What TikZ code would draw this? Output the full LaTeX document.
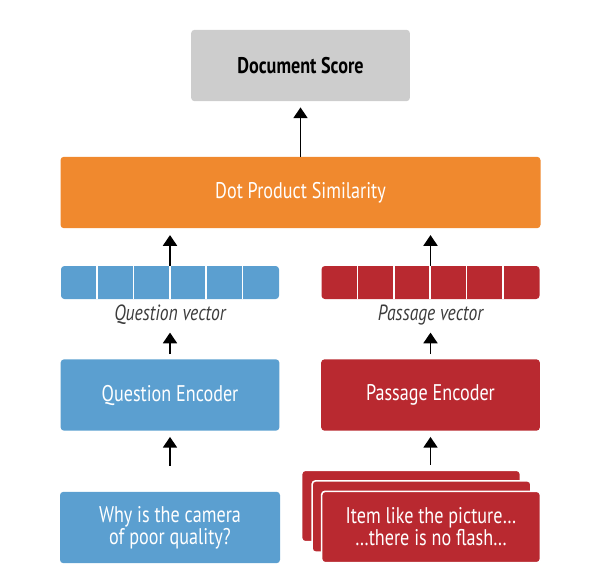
\documentclass[tikz,border=0pt]{standalone}
\usepackage{fontspec}
\setmainfont{PT Sans}[FakeStretch=0.8]
\usetikzlibrary{arrows.meta,positioning}
\definecolor{qblue}{RGB}{91,159,208}
\definecolor{pred}{RGB}{185,41,48}
\definecolor{dporange}{RGB}{240,137,46}
\definecolor{scoregray}{RGB}{205,205,205}
\definecolor{labelgray}{RGB}{60,60,60}

\begin{document}
\begin{tikzpicture}[x=0.75pt,y=-0.75pt,
	box/.style={rounded corners=2.5pt,minimum width=164pt,minimum height=53.5pt,align=center,text=white,font=\fontsize{17}{16.5}\selectfont},
	vec/.style={rounded corners=2.5pt,minimum width=163.5pt,minimum height=24.75pt,inner sep=0pt},
	veclabel/.style={font=\fontsize{16.5}{18}\selectfont\itshape,text=labelgray,minimum height=26pt,inner sep=0pt},
	card/.style={box,fill=pred,draw=white,line width=1.2pt},
	arr/.style={line width=1.3pt,-{Triangle[width=10.5pt,length=8pt]}}]
	\useasboundingbox (0,0) rectangle (616,568);
	% score and similarity
	\node[box,fill=scoregray,text=black,font=\fontsize{17}{16.5}\selectfont\bfseries] (score) at (300.5,65.5) {Document Score};
	\node[box,fill=dporange,minimum width=360pt] (dps) at (300.5,192.5) {Dot Product Similarity};
	% vectors
	\node[vec,fill=qblue] (qvec) at (170,282.5) {};
	\node[vec,fill=pred] (pvec) at (430.5,282.5) {};
	\node[veclabel] (qlab) at (170,315) {Question vector};
	\node[veclabel] (plab) at (430.5,315) {Passage vector};
	% encoders
	\node[box,fill=qblue] (qenc) at (170,395) {Question Encoder};
	\node[box,fill=pred] (penc) at (430.5,395) {Passage Encoder};
	% inputs
	\node[box,fill=qblue,minimum width=165pt] (qin) at (170,527.5) {Why is the camera\\of poor quality?};
	\node[card] (pback) at (411,506) {};
	\node[card] (pmid) at (421.5,516.5) {};
	\node[card] (pfront) at (431,527) {Item like the picture…\\…there is no flash…};
	% arrows
	\draw[arr,shorten >=4.5pt] (dps) -- (score);
	\draw[arr,shorten >=5pt] (qvec.north) -- (qvec.north |- dps.south);
	\draw[arr,shorten >=5pt] (pvec.north) -- (pvec.north |- dps.south);
	\draw[arr,shorten <=3.75pt] (qenc) -- (qlab);
	\draw[arr,shorten <=3.75pt] (penc) -- (plab);
	\draw[arr,shorten <=19.5pt,shorten >=4.5pt] (qin) -- (qenc);
	\draw[arr,shorten <=3.75pt,shorten >=4.5pt] (penc.south |- pback.north) -- (penc.south);
	% cell borders
	\foreach \i in {1,...,5}{
		\draw[white,line width=1.2pt] ([xshift=\i*27.25pt]qvec.north west) -- ([xshift=\i*27.25pt]qvec.south west);
		\draw[white,line width=1.2pt] ([xshift=\i*27.25pt]pvec.north west) -- ([xshift=\i*27.25pt]pvec.south west);
	}
\end{tikzpicture}
\end{document}
